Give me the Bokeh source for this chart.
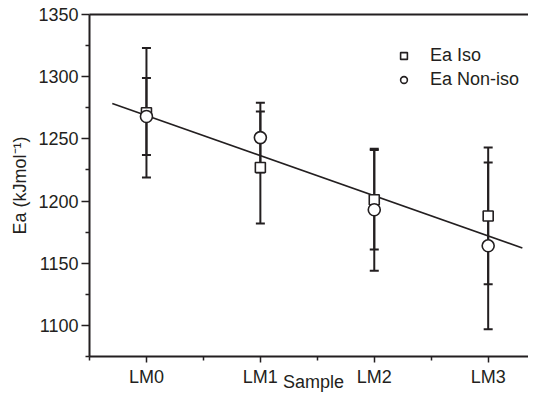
import numpy as np
from bokeh.plotting import figure
from bokeh.models import (ColumnDataSource, Whisker, TeeHead, Legend, LegendItem,
                          FixedTicker, LinearAxis, Range1d)
from bokeh.embed import file_html
from bokeh.resources import INLINE

# ---- data ----
samples = ["LM0", "LM1", "LM2", "LM3"]
ea_iso = [1271, 1227, 1201, 1188]
ea_iso_err = [52, 45, 40, 55]
ea_noniso = [1268, 1251, 1193, 1164]
ea_noniso_err = [31, 28, 49, 67]
fit_extent = [-0.3, 3.3]
y_ticks = [1100, 1150, 1200, 1250, 1300, 1350]

FONT = "Liberation Sans"
INK = "#231f20"
FS = "18px"

x = list(range(len(samples)))

iso_src = ColumnDataSource(dict(
    x=x, y=ea_iso,
    upper=[v + e for v, e in zip(ea_iso, ea_iso_err)],
    lower=[v - e for v, e in zip(ea_iso, ea_iso_err)]))
non_src = ColumnDataSource(dict(
    x=x, y=ea_noniso,
    upper=[v + e for v, e in zip(ea_noniso, ea_noniso_err)],
    lower=[v - e for v, e in zip(ea_noniso, ea_noniso_err)]))

# linear fit through all points
all_x = np.array(x + x, dtype=float)
all_y = np.array(ea_iso + ea_noniso, dtype=float)
slope, intercept = np.polyfit(all_x, all_y, 1)
fx = np.array(fit_extent)
fy = slope * fx + intercept

p = figure(width=528, height=394, output_backend="svg", toolbar_location=None,
           x_range=Range1d(-0.5, 3.354), y_range=Range1d(1075, 1350),
           min_border_left=89, min_border_right=0, min_border_top=14,
           min_border_bottom=38)
p.grid.visible = False
p.outline_line_color = None
p.background_fill_color = "white"
p.border_fill_color = "white"

# error bars
for src in (iso_src, non_src):
    w = Whisker(source=src, base="x", upper="upper", lower="lower",
                dimension="height", line_color=INK, line_width=2,
                upper_head=TeeHead(size=9, line_color=INK, line_width=2),
                lower_head=TeeHead(size=9, line_color=INK, line_width=2))
    p.add_layout(w)

p.line(fx, fy, line_color=INK, line_width=1.6)

r_iso = p.scatter("x", "y", source=iso_src, marker="square", size=10,
                  fill_color="white", line_color=INK, line_width=1.6)
r_non = p.scatter("x", "y", source=non_src, marker="circle", size=12,
                  fill_color="white", line_color=INK, line_width=1.6)

# axes
xa = p.xaxis[0]
xa.ticker = FixedTicker(ticks=x, minor_ticks=[-0.5, 0.5, 1.5, 2.5])
xa.major_label_overrides = {i: s for i, s in zip(x, samples)}
xa.axis_label = "\u2002Sample"
ya = p.yaxis[0]
ya.ticker = FixedTicker(ticks=y_ticks,
                        minor_ticks=[1075, 1125, 1175, 1225, 1275, 1325])
ya.axis_label = "Ea (kJmol\u207b\u00b9)"

for ax in (xa, ya):
    ax.axis_line_color = INK
    ax.axis_line_width = 2
    ax.major_tick_line_color = INK
    ax.minor_tick_line_color = INK
    ax.major_tick_line_width = 1.5
    ax.minor_tick_line_width = 1.5
    ax.major_tick_in = 0
    ax.minor_tick_in = 0
    ax.major_label_text_font = FONT
    ax.major_label_text_font_size = FS
    ax.major_label_text_color = INK
    ax.axis_label_text_font = FONT
    ax.axis_label_text_font_size = FS
    ax.axis_label_text_font_style = "normal"
    ax.axis_label_text_color = INK

xa.major_tick_out = 6
xa.minor_tick_out = 4
xa.major_label_standoff = 4
xa.axis_label_standoff = -18
ya.major_tick_out = 8
ya.minor_tick_out = 4
ya.major_label_standoff = 3
ya.axis_label_standoff = 5

top = LinearAxis(ticker=FixedTicker(ticks=[]), axis_line_color=INK,
                 axis_line_width=2, major_label_text_font_size="0px",
                 major_tick_out=0, minor_tick_out=0, major_tick_in=0,
                 minor_tick_in=0)
p.add_layout(top, "above")

legend = Legend(items=[LegendItem(label="Ea Iso", renderers=[r_iso]),
                       LegendItem(label="Ea Non-iso", renderers=[r_non])],
                location=(306, 266), orientation="vertical",
                border_line_color=None, background_fill_alpha=0,
                padding=0, margin=0, spacing=3,
                glyph_width=17, glyph_height=17, label_height=20,
                label_standoff=18,
                label_text_font=FONT, label_text_font_size=FS,
                label_text_color=INK)
p.add_layout(legend, "center")

open("out.html", "w").write(file_html(p, INLINE))
